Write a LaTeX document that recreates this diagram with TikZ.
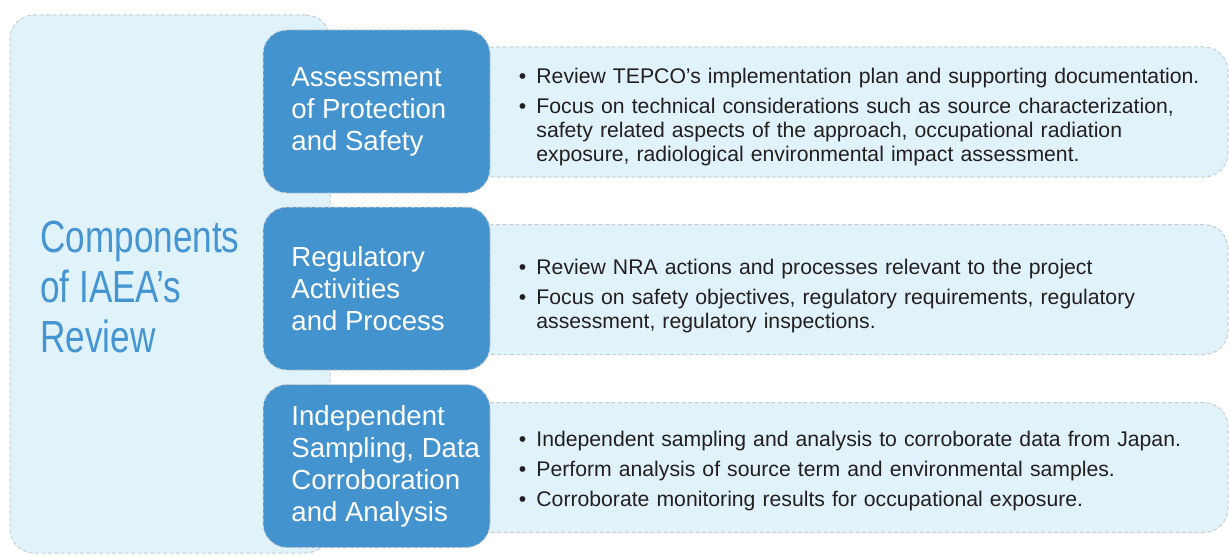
\documentclass[tikz,border=0pt]{standalone}
\usepackage{fontspec}
\setmainfont{Liberation Sans}
\newfontfamily\headfont[FakeStretch=0.78]{Liberation Sans}
\usepackage{tikz}
\usetikzlibrary{calc,positioning}
\usepackage{xcolor}
\definecolor{boxblue}{HTML}{4393CF}
\definecolor{paleblue}{HTML}{E0F2FA}
\definecolor{edgegrey}{HTML}{C9CED3}
\definecolor{headblue}{HTML}{4495D2}
\definecolor{bodytext}{HTML}{231F20}
\newenvironment{revlist}{\begin{list}{\textbullet}{%
  \setlength{\leftmargin}{9.5pt}\setlength{\labelwidth}{6pt}%
  \setlength{\labelsep}{5pt}\setlength{\itemsep}{3pt}%
  \setlength{\topsep}{0pt}\setlength{\partopsep}{0pt}\setlength{\parsep}{0pt}}}%
  {\end{list}}

\begin{document}
\begin{tikzpicture}[x=0.5pt,y=-0.5pt,
	edge/.style={draw=edgegrey,line width=0.5pt,dash pattern=on 2pt off 1.2pt},
	outerbox/.style={edge,fill=paleblue,rounded corners=12pt,minimum width=160pt,minimum height=269pt},
	compbox/.style={edge,fill=boxblue,rounded corners=12pt,minimum width=113.5pt,minimum height=81.5pt},
	notebox/.style={edge,fill=paleblue,rounded corners=12pt,minimum width=379pt,minimum height=65pt},
	comptext/.style={anchor=west,inner sep=0pt,align=left,text=white,font=\fontsize{13.8}{16}\selectfont},
	notetext/.style={anchor=west,inner sep=0pt,text width=355pt,text=bodytext,font=\fontsize{10.6}{12}\selectfont}]
	\useasboundingbox (0,0) rectangle (1229,556);
	% left panel
	\node[outerbox] (outer) at (170,284) {};
	\node[anchor=west,inner sep=0pt,align=left,text=headblue,font=\headfont\fontsize{22.5}{25}\selectfont] (head) at (40,287) {Components\\of IAEA’s\\Review};
	% right hand notes
	\foreach \n/\y in {1/112,2/289.5,3/467.5}
	\node[notebox] (note\n) at (849,\y) {};
	% component boxes
	\foreach \n/\y in {1/111.5,2/288.5,3/466}
	\node[compbox] (comp\n) at (376.5,\y) {};
	\node[comptext] (ctext1) at (291,112) {Assessment\\of Protection\\and Safety};
	\node[comptext] (ctext2) at (291,289) {Regulatory\\Activities\\and Process};
	\node[comptext] (ctext3) at (291,466) {Independent\\Sampling, Data\\Corroboration\\and Analysis};
	% bullet texts
	\node[notetext] (ntext1) at (517,113) {\begin{revlist}
		\item Review TEPCO’s implementation plan and supporting documentation.
		\item Focus on technical considerations such as source characterization,\\
		safety related aspects of the approach, occupational radiation\\
		exposure, radiological environmental impact assessment.
	\end{revlist}};
	\node[notetext] (ntext2) at (517,292) {\begin{revlist}
		\item Review NRA actions and processes relevant to the project
		\item Focus on safety objectives, regulatory requirements, regulatory\\
		assessment, regulatory inspections.
	\end{revlist}};
	\node[notetext] (ntext3) at (517,467) {\begin{revlist}
		\item Independent sampling and analysis to corroborate data from Japan.
		\item Perform analysis of source term and environmental samples.
		\item Corroborate monitoring results for occupational exposure.
	\end{revlist}};
\end{tikzpicture}
\end{document}
